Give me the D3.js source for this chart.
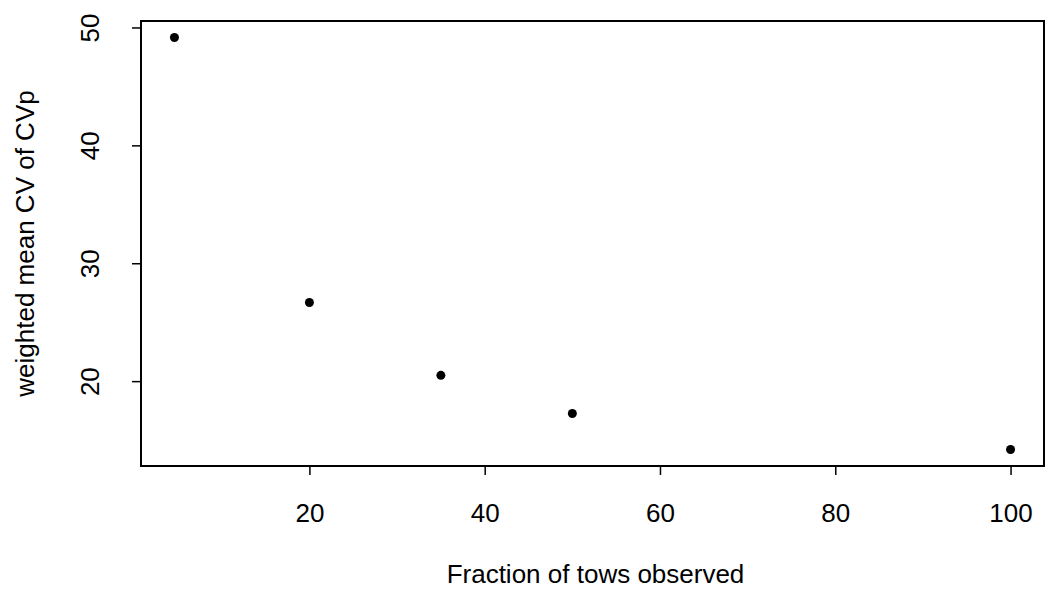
<!DOCTYPE html>
<html>
<head>
<meta charset="utf-8">
<script src="https://cdn.jsdelivr.net/npm/d3@7"></script>
<style>
  body { margin: 0; background: #fff; }
  svg text { font-family: "Liberation Sans", Arial, Helvetica, sans-serif; fill: #000; }
</style>
</head>
<body>
<div id="chart"></div>
<script>
// data
const towFraction = [4.6, 20, 35, 50, 100];
const meanCV = [49.15, 26.67, 20.49, 17.26, 14.2];
const xTicks = [20, 40, 60, 80, 100];
const yTicks = [20, 30, 40, 50];
const xTitle = "Fraction of tows observed";
const yTitle = "weighted mean CV of CVp";

const size = {width: 1045, height: 591};
const box = {left: 141, right: 1044, top: 21, bottom: 466};
const fontSize = 26;
const tickLen = 9;

const svg = d3.select("#chart").append("svg")
    .attr("width", size.width)
    .attr("height", size.height);

// R style range padding (4%)
function pad(extent) {
    const r = extent[1] - extent[0];
    return [extent[0] - 0.04 * r, extent[1] + 0.04 * r];
}

const xScale = d3.scaleLinear()
    .domain(pad(d3.extent(towFraction)))
    .range([box.left, box.right]);
const yScale = d3.scaleLinear()
    .domain(pad(d3.extent(meanCV)))
    .range([box.bottom, box.top]);

// x axis
const xAxis = svg.append("g")
    .attr("class", "xAxisG")
    .attr("transform", "translate(0," + box.bottom + ")")
    .call(d3.axisBottom(xScale).tickValues(xTicks).tickSize(tickLen).tickPadding(0).tickFormat(d3.format("d")));
xAxis.select(".domain").remove();
xAxis.selectAll("line").attr("stroke", "#000").attr("stroke-width", 1.5);
xAxis.selectAll("text")
    .attr("y", 56)
    .attr("dy", null)
    .style("font-size", fontSize + "px")
    .style("font-family", "'Liberation Sans', Arial, sans-serif");

// y axis, labels parallel to axis
const yAxis = svg.append("g")
    .attr("class", "yAxisG")
    .attr("transform", "translate(" + box.left + ",0)")
    .call(d3.axisLeft(yScale).tickValues(yTicks).tickSize(tickLen).tickPadding(0).tickFormat(d3.format("d")));
yAxis.select(".domain").remove();
yAxis.selectAll("line").attr("stroke", "#000").attr("stroke-width", 1.5);
yAxis.selectAll("text")
    .attr("x", null)
    .attr("dy", null)
    .attr("transform", "translate(-42,0) rotate(-90)")
    .attr("text-anchor", "middle")
    .style("font-size", fontSize + "px")
    .style("font-family", "'Liberation Sans', Arial, sans-serif");

// plot box
svg.append("rect")
    .attr("x", box.left)
    .attr("y", box.top)
    .attr("width", box.right - box.left)
    .attr("height", box.bottom - box.top)
    .attr("fill", "none")
    .attr("stroke", "#000")
    .attr("stroke-width", 2);

// points
svg.selectAll(".markerCircle")
    .data(towFraction.map((x, i) => ({x: x, y: meanCV[i]})))
    .join("circle")
    .attr("class", "markerCircle")
    .attr("cx", d => xScale(d.x))
    .attr("cy", d => yScale(d.y))
    .attr("r", 4.5)
    .attr("fill", "#000");

// titles
svg.append("text")
    .attr("x", (box.left + box.right) / 2 + 3)
    .attr("y", 583)
    .attr("text-anchor", "middle")
    .style("font-size", fontSize + "px")
    .text(xTitle);

svg.append("text")
    .attr("transform", "translate(34," + ((box.top + box.bottom) / 2) + ") rotate(-90)")
    .attr("text-anchor", "middle")
    .style("font-size", fontSize + "px")
    .text(yTitle);
</script>
</body>
</html>
